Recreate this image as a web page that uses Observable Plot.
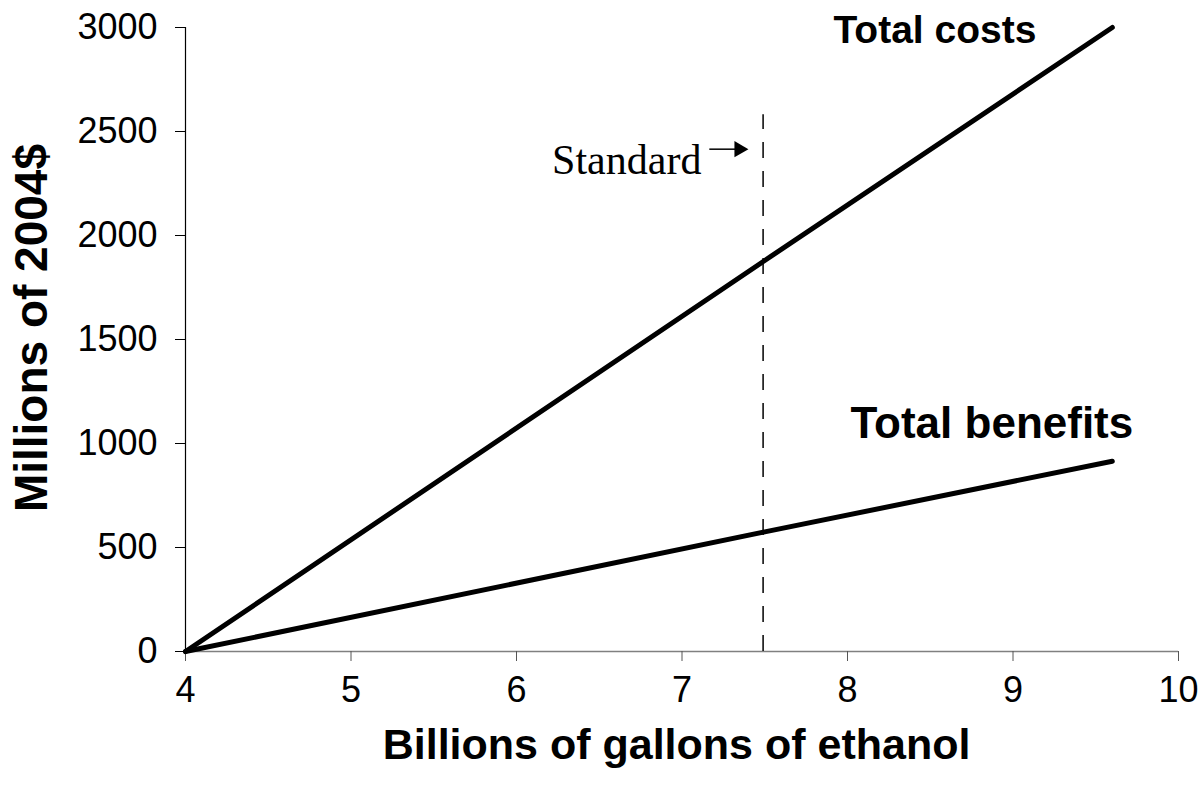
<!DOCTYPE html>
<html>
<head>
<meta charset="utf-8">
<script src="https://cdn.jsdelivr.net/npm/d3@7"></script>
<script src="https://cdn.jsdelivr.net/npm/@observablehq/plot@0.6"></script>
<style>
  html, body { margin: 0; padding: 0; background: #fff; }
  #chart svg { display: block; }
</style>
</head>
<body>
<div id="chart"></div>
<script>
// Data
const gallons = [4, 7.5, 9.6];           // billions of gallons of ethanol
const totalCosts = [0, 1880, 3000];      // millions of 2004$
const totalBenefits = [0, 575, 915];     // millions of 2004$
const standardLevel = 7.49;               // the standard (billions of gallons)
const standardTop = 2580;
const xTicks = [4, 5, 6, 7, 8, 9, 10];
const yTicks = [0, 500, 1000, 1500, 2000, 2500, 3000];

const costRows = gallons.map((g, i) => ({x: g, y: totalCosts[i]}));
const benefitRows = gallons.map((g, i) => ({x: g, y: totalBenefits[i]}));

const chart = Plot.plot({
  width: 1203,
  height: 793,
  marginLeft: 185,
  marginRight: 25,
  marginTop: 27,
  marginBottom: 142,
  style: {fontFamily: "'Liberation Sans', Arial, sans-serif", fontSize: "36px", background: "#fff", color: "#000", overflow: "visible"},
  x: {domain: [4, 10], axis: null},
  y: {domain: [0, 3000], axis: null},
  marks: [
    // axis lines
    Plot.ruleY([0], {stroke: "#808080", strokeWidth: 1.5}),
    Plot.ruleX([4], {stroke: "#000", strokeWidth: 1.2}),
    Plot.axisX({ticks: xTicks, tickSize: 10, tickPadding: 15, tickFormat: d => String(d), stroke: "#555", fill: "#000", fontSize: 36, label: null}),
    Plot.axisY({ticks: yTicks, tickSize: 10, tickPadding: 18, tickFormat: d => String(d), stroke: "#000", fill: "#000", fontSize: 36, label: null}),
    // standard dashed line
    Plot.ruleX([standardLevel], {y1: 0, y2: standardTop, stroke: "#000", strokeWidth: 1.5, strokeDasharray: "16,13"}),
    // series
    Plot.line(costRows, {x: "x", y: "y", stroke: "#000", strokeWidth: 5}),
    Plot.line(benefitRows, {x: "x", y: "y", stroke: "#000", strokeWidth: 5}),
    // labels
    Plot.text(["Total costs"], {x: 7.915, y: 2986, text: d => d, textAnchor: "start", fontWeight: "bold", fontSize: 39, fill: "#000"}),
    Plot.text(["Total benefits"], {x: 8.018, y: 1096, text: d => d, textAnchor: "start", fontWeight: "bold", fontSize: 44, fill: "#000"}),
    Plot.text(["Standard"], {x: 6.215, y: 2361, text: d => d, textAnchor: "start", fontFamily: "'Liberation Serif', 'Times New Roman', serif", fontSize: 42, fill: "#000"}),
    Plot.link([0], {x1: 7.165, x2: 7.33, y1: 2415, y2: 2415, stroke: "#000", strokeWidth: 1.5}),
    Plot.dot([0], {x: 7.345, y: 2415, symbol: "triangle", rotate: 90, r: 6, fill: "#000", stroke: null}),
    // axis titles
    Plot.text(["Billions of gallons of ethanol"], {x: 6.967, y: -452, text: d => d, fontWeight: "bold", fontSize: 43, fill: "#000", clip: false}),
    Plot.text(["Millions of 2004$"], {x: 3.075, y: 1555, text: d => d, rotate: -90, fontWeight: "bold", fontSize: 46, fill: "#000", clip: false})
  ]
});
document.getElementById("chart").appendChild(chart);
</script>
</body>
</html>
